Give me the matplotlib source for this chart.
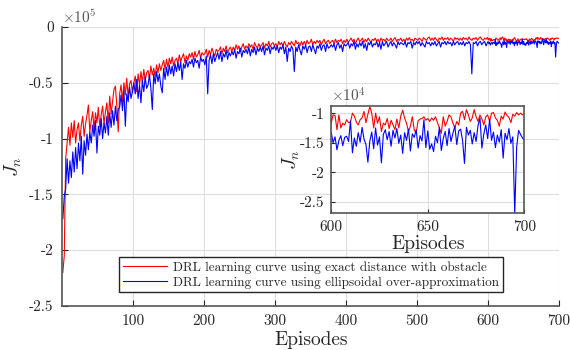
import numpy as np
import matplotlib
matplotlib.use("Agg")
import matplotlib.pyplot as plt
from matplotlib.ticker import FuncFormatter, FixedLocator

plt.rcParams['font.family'] = 'serif'
plt.rcParams['font.serif'] = ['cmr10', 'DejaVu Serif']
plt.rcParams['mathtext.fontset'] = 'cm'
plt.rcParams['axes.unicode_minus'] = False
plt.rcParams['axes.formatter.use_mathtext'] = True

# ---------------- data (values in units of 1e3) ----------------
# Episodes 1..599 sampled every 2 episodes, 600..700 every episode
red_coarse = [
    -220, -205, -118, -104, -90, -106, -86, -99, -84, -104,
    -92, -86, -102, -88, -80, -98, -87, -79, -70, -94,
    -84, -76, -92, -77, -86, -72, -90, -79, -71, -87,
    -76, -68, -86, -62, -78, -67, -56, -53, -70, -94,
    -60, -52, -67, -50, -61, -46, -63, -51, -48, -59,
    -50, -44, -58, -42, -52, -40, -50, -38, -48, -41,
    -39, -46, -35, -43, -37, -44, -34, -41, -33, -39,
    -34, -30, -38, -29, -36, -28, -33, -27, -35, -30,
    -28, -33, -25, -31, -27, -24, -32, -26, -30, -24,
    -27, -23, -29, -22, -27, -25, -21, -28, -23, -25,
    -24, -20, -27, -21, -25, -19, -23, -26, -20, -22,
    -21, -18, -24, -19, -22, -17, -23, -20, -18, -22,
    -18, -21, -16, -20, -17, -22, -18, -15, -20, -17,
    -19, -15, -18, -16, -20, -14, -17, -19, -15, -18,
    -16, -14, -19, -15, -17, -13, -18, -15, -14, -17,
    -15, -18, -13, -16, -14, -17, -13, -16, -18, -14,
    -16, -13, -15, -17, -12, -15, -14, -17, -13, -16,
    -13, -16, -12, -15, -14, -11, -16, -13, -15, -12,
    -14, -12, -16, -13, -11, -15, -13, -12, -15, -13,
    -12, -15, -11, -14, -12, -13, -11, -15, -12, -14,
    -11, -14, -12, -10, -13, -11, -15, -12, -10, -13,
    -12, -10, -14, -11, -13, -10, -12, -14, -11, -12,
    -10, -13, -11, -14, -10, -12, -11, -13, -10, -12,
    -12, -10, -13, -11, -9.5, -13, -11, -12, -10, -13,
    -11, -13, -10, -12, -9.5, -12, -11, -13, -10, -11,
    -12, -10, -11, -13, -9.5, -11, -12, -10, -9, -12,
    -10, -12, -9.5, -11, -13, -10, -11, -9, -12, -10,
    -11, -9.5, -12, -10, -11, -13, -9.5, -11, -10, -12,
    -10, -12, -9.5, -11, -10, -12, -9, -11, -12, -10,
    -11, -9.5, -12, -10, -9, -11, -12, -10, -11, -9.5,
]
blue_coarse = [
    -172, -152, -145, -118, -140, -120, -135, -112, -130, -108,
    -127, -104, -120, -98, -132, -102, -115, -96, -110, -94,
    -104, -88, -98, -84, -113, -89, -97, -82, -100, -86,
    -95, -80, -97, -77, -90, -75, -88, -71, -84, -74,
    -72, -61, -75, -57, -89, -60, -67, -54, -64, -58,
    -50, -60, -47, -64, -52, -68, -48, -58, -45, -55,
    -52, -43, -55, -74, -42, -51, -40, -49, -42, -53,
    -59, -37, -47, -36, -44, -34, -42, -35, -44, -33,
    -40, -32, -39, -31, -47, -33, -37, -30, -36, -31,
    -33, -29, -36, -28, -32, -30, -37, -27, -31, -29,
    -34, -26, -60, -30, -25, -33, -24, -31, -27, -23,
    -29, -22, -31, -24, -27, -21, -29, -23, -26, -22,
    -25, -20, -28, -22, -24, -19, -27, -21, -23, -20,
    -24, -18, -26, -20, -23, -18, -25, -19, -22, -18,
    -22, -17, -25, -19, -21, -17, -24, -18, -20, -17,
    -21, -17, -23, -18, -20, -16, -24, -18, -31, -19,
    -22, -17, -20, -40, -18, -22, -16, -21, -25, -17,
    -20, -16, -23, -18, -17, -22, -16, -20, -24, -17,
    -19, -15, -21, -17, -16, -22, -15, -19, -18, -16,
    -18, -15, -21, -16, -14, -19, -16, -22, -15, -17,
    -16, -14, -19, -15, -17, -13, -20, -15, -18, -14,
    -17, -13, -19, -15, -21, -14, -16, -13, -18, -15,
    -16, -13, -18, -14, -20, -13, -17, -15, -13, -18,
    -15, -13, -17, -14, -16, -19, -13, -16, -14, -15,
    -16, -13, -18, -14, -15, -13, -19, -14, -16, -13,
    -15, -13, -17, -14, -16, -18, -13, -15, -14, -17,
    -14, -16, -13, -17, -15, -13, -18, -14, -15, -13,
    -16, -13, -15, -14, -17, -13, -16, -14, -13, -16,
    -14, -16, -13, -17, -14, -15, -13, -16, -42, -14,
    -15, -13, -17, -14, -13, -16, -14, -13, -17, -14,
]
red_fine = [
    -11.7, -10.3, -10.4, -12.8, -10.3, -12.5, -11.7, -12.0, -11.1, -11.6,
    -11.5, -10.0, -10.5, -11.5, -12.0, -11.1, -10.8, -9.7, -11.6, -10.2,
    -8.9, -10.0, -12.5, -10.0, -11.7, -10.6, -13.1, -11.7, -12.0, -10.9,
    -12.6, -11.2, -12.0, -12.8, -11.0, -12.5, -10.5, -9.5, -10.8, -11.7,
    -13.1, -12.2, -10.6, -12.8, -13.4, -11.3, -11.0, -10.9, -10.6, -11.2,
    -10.9, -11.4, -10.8, -11.2, -10.6, -11.6, -12.5, -13.4, -10.6, -12.2,
    -11.4, -10.3, -10.6, -11.7, -12.5, -11.4, -12.0, -10.0, -9.7, -11.1,
    -9.4, -10.3, -11.4, -10.8, -9.4, -10.6, -11.4, -10.3, -11.0, -12.0,
    -10.6, -10.3, -11.4, -10.0, -9.9, -10.8, -11.2, -12.2, -10.5, -11.0,
    -9.8, -10.4, -10.7, -11.6, -10.2, -10.5, -9.9, -10.3, -10.0, -10.3,
    -10.1,
]
blue_fine = [
    -13.2, -15.0, -14.0, -16.2, -14.6, -13.8, -15.5, -14.1, -13.9, -14.8,
    -11.3, -16.7, -14.2, -15.6, -13.3, -14.9, -12.4, -14.4, -15.3, -18.3,
    -14.7, -13.2, -16.0, -12.5, -15.4, -14.0, -18.4, -13.6, -12.8, -14.5,
    -13.1, -15.6, -12.9, -14.2, -12.6, -15.1, -13.7, -16.8, -13.3, -14.6,
    -12.7, -16.4, -13.5, -14.1, -12.8, -15.9, -13.8, -14.7, -11.1, -15.8,
    -13.0, -16.1, -15.2, -16.5, -13.9, -15.0, -12.4, -16.3, -14.3, -13.1,
    -15.5, -12.6, -14.8, -13.4, -12.2, -15.3, -13.0, -12.7, -14.6, -18.5,
    -12.4, -13.7, -12.9, -15.2, -13.3, -14.8, -12.1, -10.8, -15.9, -13.5,
    -12.0, -14.3, -11.0, -14.6, -13.2, -15.8, -13.7, -14.9, -12.8, -17.6,
    -13.4, -14.5, -12.6, -15.1, -14.0, -27.0, -15.7, -12.9, -13.6, -14.2,
    -14.6,
]
legend_labels = ["DRL learning curve using exact distance with obstacle",
                 "DRL learning curve using ellipsoidal over-approximation"]
main_xticks = [100, 200, 300, 400, 500, 600, 700]
main_yticks = [0, -0.5, -1, -1.5, -2, -2.5]
inset_xticks = [600, 650, 700]
inset_yticks = [-1, -1.5, -2, -2.5]

ep_r = np.concatenate([np.arange(1, 1 + 2 * len(red_coarse), 2), np.arange(600, 600 + len(red_fine))])
ep_b = np.concatenate([np.arange(1, 1 + 2 * len(blue_coarse), 2), np.arange(600, 600 + len(blue_fine))])
red = np.array(red_coarse + red_fine) * 1e3
blue = np.array(blue_coarse + blue_fine) * 1e3

dark = '#262626'
gridc = '#dedede'

fig = plt.figure(figsize=(5.7, 3.5), dpi=100)
ax = fig.add_axes([0.109, 0.126, 0.872, 0.797])
l1, = ax.plot(ep_r, red, color='#ff0000', lw=0.8, label=legend_labels[0])
l2, = ax.plot(ep_b, blue, color='#0000ff', lw=0.8, label=legend_labels[1])
ax.set_xlim(0, 700)
ax.set_ylim(-2.5e5, 0)
ax.xaxis.set_major_locator(FixedLocator(main_xticks))
ax.yaxis.set_major_locator(FixedLocator([v * 1e5 for v in main_yticks]))
ax.xaxis.set_major_formatter(FuncFormatter(lambda v, p: f"{int(v)}"))
ax.yaxis.set_major_formatter(FuncFormatter(lambda v, p: f"{v/1e5:g}"))
ax.grid(True, color=gridc, lw=0.8)
ax.set_axisbelow(True)
for s in ['top', 'right']:
    ax.spines[s].set_visible(False)
for s in ['left', 'bottom']:
    ax.spines[s].set_color('#555555')
    ax.spines[s].set_linewidth(1.2)
ax.tick_params(direction='in', length=4, width=0.8, color=dark, labelsize=11, labelcolor=dark, pad=6)
ax.set_xlabel("Episodes", fontsize=14, color=dark, labelpad=2)
ax.set_ylabel(r"$J_n$", fontsize=14, color=dark, labelpad=4)
ax.text(0.0, 1.005, r"$\times 10^5$", transform=ax.transAxes, fontsize=11, color='#555555', va='bottom', ha='left')
ax.axhline(0, color=gridc, lw=0.8, zorder=0)

leg = ax.legend(handles=[l1, l2], loc='center', bbox_to_anchor=(0.5, 0.111), fontsize=9.5,
                frameon=True, fancybox=False, framealpha=1, edgecolor='#262626',
                handlelength=3.4, handletextpad=0.4, borderpad=0.3, labelspacing=0.15)
leg.get_frame().set_linewidth(1.0)
for t in leg.get_texts():
    t.set_color(dark)

# inset
ai = fig.add_axes([0.581, 0.391, 0.339, 0.306])
ai.plot(ep_r, red, color='#ff0000', lw=0.8)
ai.plot(ep_b, blue, color='#0000ff', lw=0.8)
ai.set_xlim(600, 700)
ai.set_ylim(-2.69e4, -0.88e4)
ai.xaxis.set_major_locator(FixedLocator(inset_xticks))
ai.yaxis.set_major_locator(FixedLocator([v * 1e4 for v in inset_yticks]))
ai.xaxis.set_major_formatter(FuncFormatter(lambda v, p: f"{int(v)}"))
ai.yaxis.set_major_formatter(FuncFormatter(lambda v, p: f"{v/1e4:g}"))
ai.grid(True, color=gridc, lw=0.8)
ai.set_axisbelow(True)
for s in ai.spines.values():
    s.set_color('#555555')
    s.set_linewidth(1.2)
ai.tick_params(direction='in', length=3, width=0.8, color=dark, labelsize=11, labelcolor=dark, pad=5)
ai.set_xlabel("Episodes", fontsize=14, color=dark, labelpad=1)
ai.set_ylabel(r"$J_n$", fontsize=14, color=dark, labelpad=-2)
ai.text(0.0, 1.01, r"$\times 10^4$", transform=ai.transAxes, fontsize=11, color='#555555', va='bottom', ha='left')

fig.savefig("out.png", dpi=100)
